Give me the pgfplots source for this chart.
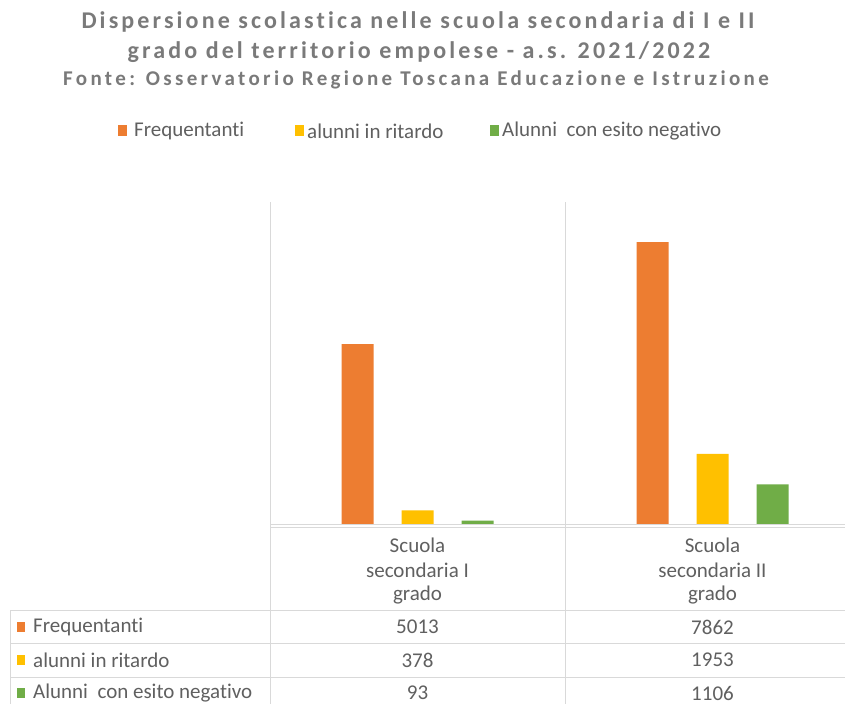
\documentclass[border=0pt]{standalone}
\usepackage{pgfplots}
\pgfplotsset{compat=1.18}
\usepackage{fontspec}
\setmainfont[Ligatures={NoCommon}]{Carlito}
\newfontfamily\titlefontA[LetterSpace=13,Ligatures={NoCommon}]{Carlito}
\newfontfamily\titlefontB[LetterSpace=15.9,Ligatures={NoCommon}]{Carlito}
\definecolor{cOrange}{HTML}{ED7D31}
\definecolor{cYellow}{HTML}{FFC000}
\definecolor{cGreen}{HTML}{70AD47}
\definecolor{cGrid}{HTML}{D9D9D9}
\definecolor{cText}{HTML}{606060}
\definecolor{cTitle}{HTML}{7A7A7A}
\begin{document}
\begin{tikzpicture}[x=1pt,y=1pt]
\useasboundingbox (0,0) rectangle (845,-704);
\clip (0,0) rectangle (845,-704);
\fill[white] (0,0) rectangle (845,-704);
% title
\node[font=\titlefontA\bfseries\fontsize{24}{28}\selectfont, text=cTitle] at (418,-22) {Dispersione scolastica nelle scuola secondaria di I e II};
\node[font=\titlefontA\bfseries\fontsize{24}{28}\selectfont, text=cTitle] at (419,-52) {grado del territorio empolese - a.s. 2021/2022};
\node[font=\titlefontB\bfseries\fontsize{21}{25}\selectfont, text=cTitle] at (416,-80) {Fonte: Osservatorio Regione Toscana Educazione e Istruzione};
% legend
\fill[cOrange] (118,-125) rectangle (127,-136);
\node[anchor=west, inner sep=0pt, font=\fontsize{21}{24}\selectfont, text=cText] at (134,-131) {Frequentanti};
\fill[cYellow] (295,-125) rectangle (304,-136);
\node[anchor=west, inner sep=0pt, font=\fontsize{21}{24}\selectfont, text=cText] at (307,-131) {alunni in ritardo};
\fill[cGreen] (490,-125) rectangle (499,-136);
\node[anchor=west, inner sep=0pt, font=\fontsize{21}{24}\selectfont, text=cText] at (502,-131) {Alunni\ \ con esito negativo};
% grid lines
\draw[cGrid, line width=1pt] (270,-202) -- (270,-704);
\draw[cGrid, line width=1pt] (565,-202) -- (565,-704);
\draw[cGrid, line width=1pt] (860,-202) -- (860,-704);
% axis
\begin{axis}[at={(270pt,-524pt)}, anchor=south west, scale only axis,
  width=590pt, height=322pt, xmin=0, xmax=2, ymin=0, ymax=8977,
  axis lines=none, ticks=none, clip=false]
\addplot[ybar, bar width=32pt, bar shift=-60pt, fill=cOrange, draw=none] coordinates {(0.5,5013) (1.5,7862)};
\addplot[ybar, bar width=32pt, bar shift=0pt, fill=cYellow, draw=none] coordinates {(0.5,378) (1.5,1953)};
\addplot[ybar, bar width=32pt, bar shift=60pt, fill=cGreen, draw=none] coordinates {(0.5,93) (1.5,1106)};
\end{axis}
% axis line and table grid
\draw[cGrid, line width=1pt] (270,-524.5) -- (860,-524.5);
\draw[cGrid, line width=1pt] (270,-527) -- (860,-527);
\draw[cGrid, line width=1pt] (10,-610) -- (860,-610);
\draw[cGrid, line width=1pt] (10,-643.5) -- (860,-643.5);
\draw[cGrid, line width=1pt] (10,-677) -- (860,-677);
\draw[cGrid, line width=1pt] (10,-610) -- (10,-704);
% category labels
\begin{scope}[every node/.style={font=\fontsize{21}{24}\selectfont, text=cText, inner sep=0pt}]
\node at (417.5,-545) {Scuola};
\node at (417.5,-570) {secondaria I};
\node at (417.5,-595) {grado};
\node at (712.5,-545) {Scuola};
\node at (712.5,-570) {secondaria II};
\node at (712.5,-595) {grado};
% table rows
\fill[cOrange] (17,-622) rectangle (25,-632);
\node[anchor=west] at (33,-627) {Frequentanti};
\fill[cYellow] (17,-655) rectangle (25,-665);
\node[anchor=west] at (33,-660) {alunni in ritardo};
\fill[cGreen] (17,-688) rectangle (25,-698);
\node[anchor=west] at (33,-693) {Alunni\ \ con esito negativo};
\node at (417.5,-627) {5013};
\node at (712.5,-627) {7862};
\node at (417.5,-660) {378};
\node at (712.5,-660) {1953};
\node at (417.5,-693) {93};
\node at (712.5,-693) {1106};
\end{scope}
\end{tikzpicture}
\end{document}
